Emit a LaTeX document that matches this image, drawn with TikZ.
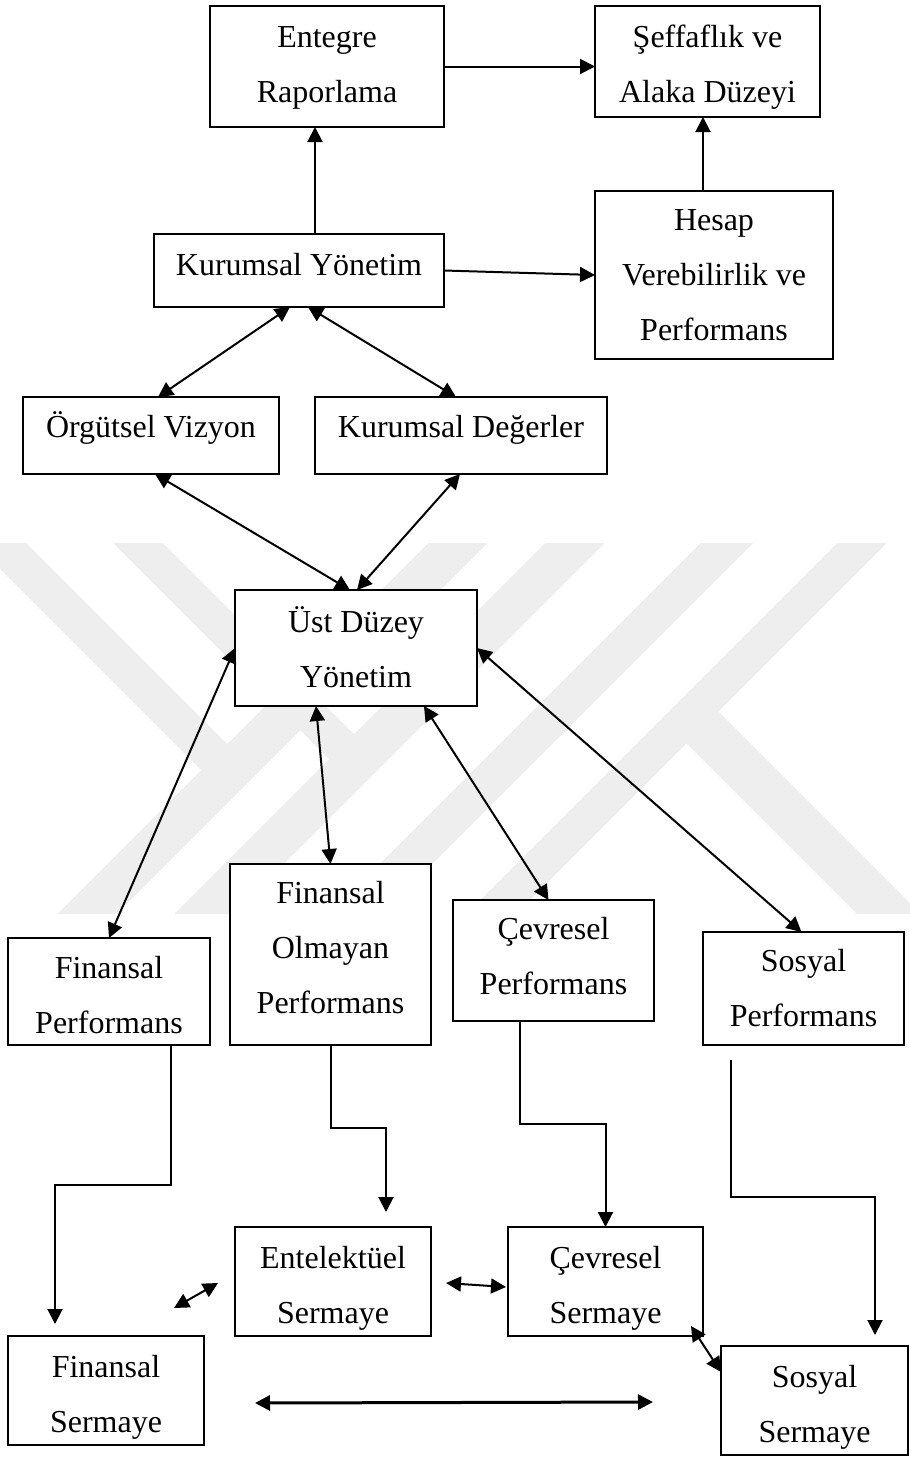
\documentclass[tikz,border=0pt]{standalone}
\usepackage{fontspec}
\setmainfont{Liberation Serif}
\usetikzlibrary{arrows.meta,calc}
\definecolor{wmgray}{RGB}{238,238,238}
\newcommand{\mkbox}[7]{%
  \pgfmathsetmacro{\mkW}{(#3-#2)*0.5}%
  \pgfmathsetmacro{\mkH}{(#5-#4)*0.5}%
  \pgfmathsetmacro{\mkTH}{(#6-#4)*0.5}%
  \pgfmathsetmacro{\mkTD}{(#5-#6)*0.5}%
  \pgfmathsetmacro{\mkX}{(#2+#3)*0.5}%
  \pgfmathsetmacro{\mkY}{(#4+#5)*0.5}%
  \node[pbox, minimum width=\mkW pt, minimum height=\mkH pt, text height=\mkTH pt, text depth=\mkTD pt] (#1) at (\mkX,\mkY) {\begin{tabular}[t]{@{}c@{}}#7\end{tabular}};%
}
\begin{document}
\begin{tikzpicture}[x=0.5pt,y=-0.5pt,
  pbox/.style={draw, rectangle, line width=1pt, fill=white, inner sep=0pt, outer sep=0pt,
    font=\fontsize{16pt}{27.5pt}\selectfont},
  arr/.style={line width=1pt, -{Triangle[length=7.5pt,width=7.5pt]}},
  darr/.style={line width=1pt, {Triangle[length=7.5pt,width=7.5pt]}-{Triangle[length=7.5pt,width=7.5pt]}},
  wm/.style={draw=wmgray, line cap=butt}]
\useasboundingbox[fill=white] (0,0) rectangle (910,1457);

% watermark
\begin{scope}
\clip (0,543) rectangle (910,913);
\draw[wm, line width=18.5pt] (-30,513) -- (240,783);
\draw[wm, line width=21pt] (488,513) -- (61,940);
\draw[wm, line width=21pt] (605,513) -- (178,940);
\draw[wm, line width=17.5pt] (108,513) -- (360,765);
\draw[wm, line width=18.5pt] (757,513) -- (330,940);
\draw[wm, line width=17.5pt] (892,513) -- (465,940);
\draw[wm, line width=22.5pt] (690,715) -- (925,950);
\end{scope}

% boxes
\mkbox{er}{210}{444}{6}{127}{47}{Entegre\\Raporlama}
\mkbox{sa}{595}{820}{6}{117}{47}{Şeffaflık ve\\Alaka Düzeyi}
\mkbox{ky}{154}{444}{234}{307}{275}{Kurumsal Yönetim}
\mkbox{hv}{595}{833}{191}{359}{230}{Hesap\\Verebilirlik ve\\Performans}
\mkbox{ov}{23}{279}{397}{474}{437}{Örgütsel Vizyon}
\mkbox{kd}{315}{607}{397}{474}{437}{Kurumsal Değerler}
\mkbox{udy}{235}{477}{590}{706}{632}{Üst Düzey\\Yönetim}
\mkbox{fp}{8}{210}{938}{1045}{978}{Finansal\\Performans}
\mkbox{fop}{230}{431}{864}{1045}{903}{Finansal\\Olmayan\\Performans}
\mkbox{cp}{453}{654}{900}{1021}{939}{Çevresel\\Performans}
\mkbox{sp}{703}{904}{932}{1045}{971}{Sosyal\\Performans}
\mkbox{es}{235}{431}{1227}{1336}{1268}{Entelektüel\\Sermaye}
\mkbox{cs}{508}{703}{1227}{1336}{1268}{Çevresel\\Sermaye}
\mkbox{fs}{8}{204}{1336}{1445}{1377}{Finansal\\Sermaye}
\mkbox{ss}{721}{908}{1346}{1455}{1387}{Sosyal\\Sermaye}

% top connectors
\coordinate (erin) at ([xshift=-6pt]er.south);
\draw[arr] (erin |- ky.north) -- (erin);
\draw[arr] (er.east) -- (er.east -| sa.west);
\coordinate (sain) at ([xshift=-2.25pt]sa.south);
\draw[arr] (sain |- hv.north) -- (sain);
\draw[arr] (ky.east) -- (hv.west);
\draw[darr] ([xshift=-4.5pt]ky.south) -- ([xshift=3.5pt]ov.north);
\draw[darr] ([xshift=4.5pt]ky.south) -- ([xshift=-2.5pt]kd.north);
\draw[darr] ([xshift=2pt]ov.south) -- ([xshift=-3pt]udy.north);
\draw[darr] ([xshift=-0.5pt]kd.south) -- ([xshift=0.5pt]udy.north);

% from top management
\draw[darr] (udy.west) -- (fp.north);
\draw[darr] ([xshift=-20pt]udy.south) -- (fop.north);
\draw[darr] ([xshift=34pt]udy.south) -- ([xshift=-2.5pt]cp.north);
\draw[darr] (udy.east) -- ([xshift=-1pt]sp.north);

% elbows
\draw[arr] ([xshift=31pt]fp.south) -- ++(0,140) -| ([xshift=-25.5pt,yshift=6pt]fs.north);
\draw[arr] (fop.south) -- ++(0,83) -| ([xshift=26.5pt,yshift=7.5pt]es.north);
\draw[arr] ([xshift=-16.75pt]cp.south) -- ++(0,103) -| (cs.north);
\draw[arr] ([xshift=-36.25pt,yshift=-7.5pt]sp.south) -- ++(0,137) -| ([xshift=30.25pt,yshift=5.5pt]ss.north);

% capital links
\draw[darr] ([xshift=34pt,yshift=14pt]fs.north) -- ([xshift=-8.5pt,yshift=-0.75pt]es.west);
\draw[darr] ([xshift=7.5pt,yshift=-0.75pt]es.east) -- ([xshift=-1pt,yshift=-2.75pt]cs.west);
\draw[darr] ([xshift=-6pt,yshift=5pt]cs.south east) -- ([yshift=14.25pt]ss.west);
\draw[darr, line width=1.5pt] ([xshift=25.5pt,yshift=-6.25pt]fs.east) -- ([xshift=-34pt,yshift=-0.75pt]ss.west);
\end{tikzpicture}
\end{document}
